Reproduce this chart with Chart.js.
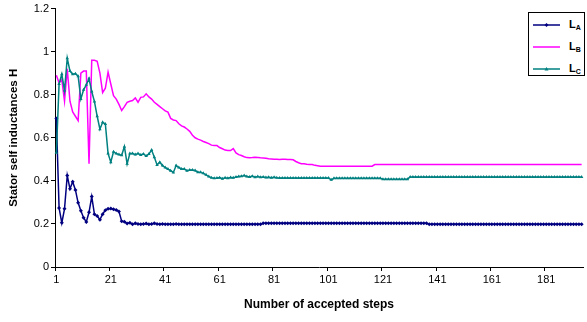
<!DOCTYPE html>
<html>
<head>
<meta charset="utf-8">
<script src="https://cdn.jsdelivr.net/npm/chart.js@4"></script>
<style>
  body { margin: 0; background: #fff; }
  #wrap { position: relative; width: 587px; height: 322px; overflow: hidden; }
  #legend {
    position: absolute; left: 528px; top: 12px; width: 55px; height: 62px;
    border: 1px solid #000; background: #fff;
    font-family: "Liberation Sans", Arial, sans-serif; font-weight: bold; font-size: 11px; color: #000;
  }
  .row { position: absolute; left: 4px; height: 14px; }
  .row svg { position: absolute; left: 0; top: 2px; }
  .row span { position: absolute; left: 36px; top: 0; white-space: nowrap; }
  .row sub { font-size: 7px; vertical-align: -2px; }
</style>
</head>
<body>
<div id="wrap">
  <canvas id="chart" width="587" height="322"></canvas>
  <div id="legend">
    <div class="row" style="top:5px"><svg width="28" height="10"><line x1="0" y1="5" x2="27" y2="5" stroke="#000080" stroke-width="1.5"/><polygon points="13.5,3 15.5,5 13.5,7 11.5,5" fill="#000080"/></svg><span>L<sub>A</sub></span></div>
    <div class="row" style="top:27px"><svg width="28" height="10"><line x1="0" y1="5" x2="27" y2="5" stroke="#ff00ff" stroke-width="1.5"/></svg><span>L<sub>B</sub></span></div>
    <div class="row" style="top:49px"><svg width="28" height="10"><line x1="0" y1="5" x2="27" y2="5" stroke="#008080" stroke-width="1.5"/><polygon points="13.5,3 15.5,6.5 11.5,6.5" fill="#008080"/></svg><span>L<sub>C</sub></span></div>
  </div>
</div>
<script>
// stator self inductances, one value per accepted step
const LA = [
  0.69, 0.274, 0.205, 0.27, 0.425, 0.363, 0.396, 0.358, 0.298, 0.261,
  0.229, 0.209, 0.254, 0.327, 0.245, 0.237, 0.22, 0.245, 0.264, 0.27,
  0.272, 0.268, 0.265, 0.258, 0.213, 0.21, 0.202, 0.205, 0.198, 0.203,
  0.2, 0.198, 0.2, 0.202, 0.198, 0.2, 0.203, 0.2, 0.199, 0.2,
  0.198, 0.199, 0.198, 0.198, 0.2, 0.198, 0.198, 0.199, 0.198, 0.198,
  0.198, 0.198, 0.198, 0.198, 0.198, 0.198, 0.198, 0.198, 0.198, 0.198,
  0.198, 0.198, 0.198, 0.198, 0.198, 0.198, 0.198, 0.198, 0.198, 0.198,
  0.198, 0.198, 0.198, 0.198, 0.198, 0.198, 0.203, 0.203, 0.203, 0.203,
  0.203, 0.203, 0.203, 0.203, 0.203, 0.203, 0.203, 0.203, 0.203, 0.203,
  0.203, 0.203, 0.203, 0.203, 0.203, 0.203, 0.203, 0.203, 0.203, 0.203,
  0.203, 0.203, 0.203, 0.203, 0.203, 0.203, 0.203, 0.203, 0.203, 0.203,
  0.203, 0.203, 0.203, 0.203, 0.203, 0.203, 0.203, 0.203, 0.203, 0.203,
  0.203, 0.203, 0.203, 0.203, 0.203, 0.203, 0.203, 0.203, 0.203, 0.203,
  0.203, 0.203, 0.203, 0.203, 0.203, 0.203, 0.203, 0.199, 0.199, 0.199,
  0.199, 0.199, 0.199, 0.199, 0.199, 0.199, 0.199, 0.199, 0.199, 0.199,
  0.199, 0.199, 0.199, 0.199, 0.199, 0.199, 0.199, 0.199, 0.199, 0.199,
  0.199, 0.199, 0.199, 0.199, 0.199, 0.199, 0.199, 0.199, 0.199, 0.199,
  0.199, 0.199, 0.199, 0.199, 0.199, 0.199, 0.199, 0.199, 0.199, 0.199,
  0.199, 0.199, 0.199, 0.199, 0.199, 0.199, 0.199, 0.199, 0.199, 0.199,
  0.199, 0.199, 0.199, 0.199
];
const LB = [
  0.89, 0.855, 0.87, 0.77, 0.92, 0.77, 0.72, 0.70, 0.68, 0.90,
  0.91, 0.91, 0.48, 0.96, 0.96, 0.955, 0.90, 0.81, 0.83, 0.905,
  0.85, 0.796, 0.78, 0.755, 0.727, 0.745, 0.765, 0.77, 0.773, 0.785,
  0.765, 0.788, 0.79, 0.804, 0.79, 0.78, 0.765, 0.755, 0.745, 0.735,
  0.725, 0.719, 0.69, 0.683, 0.68, 0.665, 0.655, 0.65, 0.641, 0.63,
  0.612, 0.6, 0.594, 0.589, 0.583, 0.578, 0.573, 0.566, 0.564, 0.564,
  0.555, 0.549, 0.543, 0.541, 0.541, 0.55, 0.53, 0.522, 0.518, 0.512,
  0.508, 0.507, 0.508, 0.51, 0.509, 0.507, 0.506, 0.505, 0.503, 0.502,
  0.5, 0.5, 0.499, 0.5, 0.5, 0.499, 0.499, 0.498, 0.49, 0.484,
  0.48, 0.479, 0.477, 0.476, 0.476, 0.472, 0.47, 0.468, 0.468, 0.468,
  0.468, 0.468, 0.468, 0.468, 0.468, 0.468, 0.468, 0.468, 0.468, 0.468,
  0.468, 0.468, 0.468, 0.468, 0.468, 0.468, 0.468, 0.476, 0.476, 0.476,
  0.476, 0.476, 0.476, 0.476, 0.476, 0.476, 0.476, 0.476, 0.476, 0.476,
  0.476, 0.476, 0.476, 0.476, 0.476, 0.476, 0.476, 0.476, 0.476, 0.476,
  0.476, 0.476, 0.476, 0.476, 0.476, 0.476, 0.476, 0.476, 0.476, 0.476,
  0.476, 0.476, 0.476, 0.476, 0.476, 0.476, 0.476, 0.476, 0.476, 0.476,
  0.476, 0.476, 0.476, 0.476, 0.476, 0.476, 0.476, 0.476, 0.476, 0.476,
  0.476, 0.476, 0.476, 0.476, 0.476, 0.476, 0.476, 0.476, 0.476, 0.476,
  0.476, 0.476, 0.476, 0.476, 0.476, 0.476, 0.476, 0.476, 0.476, 0.476,
  0.476, 0.476, 0.476, 0.476
];
const LC = [
  0.53, 0.85, 0.895, 0.82, 0.97, 0.91, 0.895, 0.898, 0.886, 0.78,
  0.823, 0.846, 0.875, 0.815, 0.768, 0.70, 0.64, 0.672, 0.664, 0.527,
  0.487, 0.535, 0.527, 0.522, 0.519, 0.559, 0.479, 0.527, 0.527, 0.522,
  0.527, 0.52, 0.525, 0.515, 0.525, 0.543, 0.51, 0.474, 0.487, 0.471,
  0.462, 0.455, 0.447, 0.439, 0.471, 0.462, 0.455, 0.455, 0.447, 0.45,
  0.45, 0.448, 0.44, 0.44, 0.435, 0.428, 0.42, 0.415, 0.412, 0.413,
  0.415, 0.41, 0.414, 0.412, 0.416, 0.414, 0.418, 0.42, 0.421, 0.425,
  0.42, 0.418, 0.422, 0.417, 0.42, 0.417, 0.418, 0.416, 0.417, 0.415,
  0.417, 0.414, 0.413, 0.413, 0.413, 0.413, 0.413, 0.413, 0.413, 0.413,
  0.413, 0.413, 0.413, 0.413, 0.413, 0.413, 0.413, 0.413, 0.413, 0.413,
  0.413, 0.405, 0.412, 0.412, 0.412, 0.412, 0.412, 0.412, 0.412, 0.412,
  0.412, 0.412, 0.412, 0.412, 0.412, 0.412, 0.412, 0.412, 0.412, 0.412,
  0.408, 0.408, 0.408, 0.408, 0.408, 0.408, 0.408, 0.408, 0.408, 0.408,
  0.418, 0.418, 0.418, 0.418, 0.418, 0.418, 0.418, 0.418, 0.418, 0.418,
  0.418, 0.418, 0.418, 0.418, 0.418, 0.418, 0.418, 0.418, 0.418, 0.418,
  0.418, 0.418, 0.418, 0.418, 0.418, 0.418, 0.418, 0.418, 0.418, 0.418,
  0.418, 0.418, 0.418, 0.418, 0.418, 0.418, 0.418, 0.418, 0.418, 0.418,
  0.418, 0.418, 0.418, 0.418, 0.418, 0.418, 0.418, 0.418, 0.418, 0.418,
  0.418, 0.418, 0.418, 0.418, 0.418, 0.418, 0.418, 0.418, 0.418, 0.418,
  0.418, 0.418, 0.418, 0.418
];
const steps = LA.map((v, i) => String(i + 1));
const labelEvery = 20;
const yTicks = [0, 0.2, 0.4, 0.6, 0.8, 1, 1.2];

const font = 'Liberation Sans, Arial, sans-serif';

new Chart(document.getElementById('chart'), {
  type: 'line',
  data: {
    labels: steps,
    datasets: [
      {
        label: 'LA', data: LA, order: 3,
        borderColor: '#000080', backgroundColor: '#000080', borderWidth: 1.5,
        pointStyle: 'rectRot', pointRadius: 2, pointBorderWidth: 0
      },
      {
        label: 'LB', data: LB, order: 2,
        borderColor: '#ff00ff', backgroundColor: '#ff00ff', borderWidth: 1.5,
        pointRadius: 0
      },
      {
        label: 'LC', data: LC, order: 1,
        borderColor: '#008080', backgroundColor: '#008080', borderWidth: 1.5,
        pointStyle: 'triangle', pointRadius: 2, pointBorderWidth: 0
      }
    ]
  },
  options: {
    responsive: false,
    animation: false,
    layout: { padding: { top: 8, right: 0, bottom: 0, left: 0 } },
    plugins: { legend: { display: false }, tooltip: { enabled: false } },
    elements: { line: { tension: 0 } },
    scales: {
      x: {
        type: 'category',
        offset: true,
        grid: {
          offset: true,
          drawOnChartArea: false,
          tickLength: 4,
          color: c => (c.index % labelEvery === 0 ? '#000' : 'rgba(0,0,0,0)')
        },
        border: { color: '#000', width: 1 },
        ticks: {
          autoSkip: false, maxRotation: 0, padding: 2, color: '#000',
          font: { family: font, size: 11 },
          callback: (v, i) => (i % labelEvery === 0 ? steps[i] : '')
        },
        title: {
          display: true, text: 'Number of accepted steps', color: '#000',
          font: { family: font, size: 12, weight: 'bold' },
          padding: { top: 4, bottom: 10 }
        },
        afterFit: s => { s.height = 55; }
      },
      y: {
        min: 0, max: 1.2,
        afterBuildTicks: s => { s.ticks = yTicks.map(v => ({ value: v })); },
        grid: { drawOnChartArea: false, tickLength: 4, color: '#000' },
        border: { color: '#000', width: 1 },
        ticks: {
          padding: 2, color: '#000',
          font: { family: font, size: 11 },
          callback: v => String(v)
        },
        title: {
          display: true, text: 'Stator self inductances H', color: '#000',
          font: { family: font, size: 11.5, weight: 'bold' },
          padding: { top: 7, bottom: 4 }
        },
        afterFit: s => { s.width = 55; }
      }
    }
  }
});
</script>
</body>
</html>
